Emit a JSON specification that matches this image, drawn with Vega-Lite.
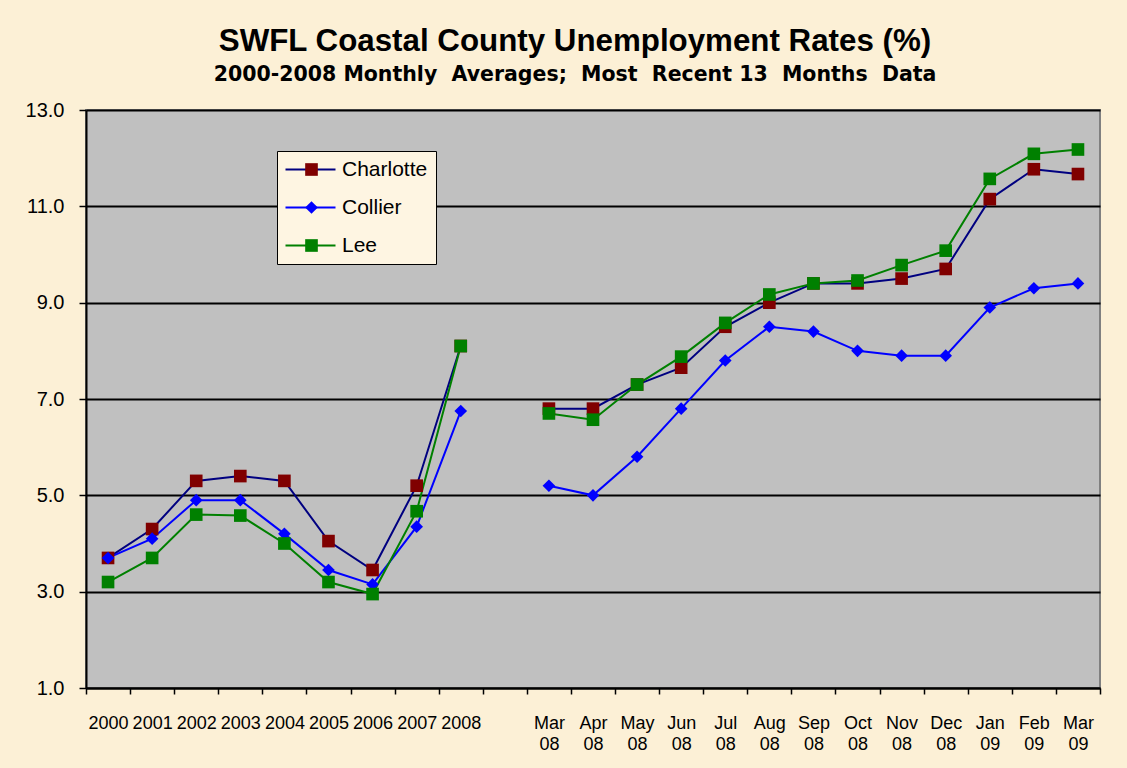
{
  "$schema": "https://vega.github.io/schema/vega-lite/v6.json",
  "width": 1014,
  "height": 578,
  "autosize": {"type": "none"},
  "padding": {"left": 86, "top": 110, "right": 27, "bottom": 80},
  "background": "#FCF0D6",
  "title": {
    "text": "SWFL Coastal County Unemployment Rates (%)",
    "subtitle": "2000-2008 Monthly\u00a0 Averages;\u00a0 Most\u00a0 Recent 13\u00a0 Months\u00a0 Data",
    "font": "Liberation Sans",
    "fontSize": 31.3,
    "fontWeight": "bold",
    "color": "black",
    "subtitleFont": "DejaVu Sans",
    "subtitleFontSize": 20.5,
    "subtitleFontWeight": "bold",
    "subtitleColor": "black",
    "anchor": "middle",
    "frame": "group",
    "dx": -18,
    "offset": 15,
    "subtitlePadding": 7
  },
  "config": {
    "view": {"fill": "#C0C0C0", "stroke": "#808080", "strokeWidth": 2}
  },
  "data": {
    "values": [
      {"period": "2000", "part": "annual", "county": "Charlotte", "rate": 3.7},
      {"period": "2001", "part": "annual", "county": "Charlotte", "rate": 4.3},
      {"period": "2002", "part": "annual", "county": "Charlotte", "rate": 5.3},
      {"period": "2003", "part": "annual", "county": "Charlotte", "rate": 5.4},
      {"period": "2004", "part": "annual", "county": "Charlotte", "rate": 5.3},
      {"period": "2005", "part": "annual", "county": "Charlotte", "rate": 4.05},
      {"period": "2006", "part": "annual", "county": "Charlotte", "rate": 3.45},
      {"period": "2007", "part": "annual", "county": "Charlotte", "rate": 5.2},
      {"period": "2008", "part": "annual", "county": "Charlotte", "rate": 8.1},
      {"period": "Mar 08", "part": "monthly", "county": "Charlotte", "rate": 6.8},
      {"period": "Apr 08", "part": "monthly", "county": "Charlotte", "rate": 6.8},
      {"period": "May 08", "part": "monthly", "county": "Charlotte", "rate": 7.3},
      {"period": "Jun 08", "part": "monthly", "county": "Charlotte", "rate": 7.65},
      {"period": "Jul 08", "part": "monthly", "county": "Charlotte", "rate": 8.5},
      {"period": "Aug 08", "part": "monthly", "county": "Charlotte", "rate": 9.0},
      {"period": "Sep 08", "part": "monthly", "county": "Charlotte", "rate": 9.4},
      {"period": "Oct 08", "part": "monthly", "county": "Charlotte", "rate": 9.4},
      {"period": "Nov 08", "part": "monthly", "county": "Charlotte", "rate": 9.5},
      {"period": "Dec 08", "part": "monthly", "county": "Charlotte", "rate": 9.7},
      {"period": "Jan 09", "part": "monthly", "county": "Charlotte", "rate": 11.15},
      {"period": "Feb 09", "part": "monthly", "county": "Charlotte", "rate": 11.77},
      {"period": "Mar 09", "part": "monthly", "county": "Charlotte", "rate": 11.67},
      {"period": "2000", "part": "annual", "county": "Collier", "rate": 3.7},
      {"period": "2001", "part": "annual", "county": "Collier", "rate": 4.1},
      {"period": "2002", "part": "annual", "county": "Collier", "rate": 4.9},
      {"period": "2003", "part": "annual", "county": "Collier", "rate": 4.9},
      {"period": "2004", "part": "annual", "county": "Collier", "rate": 4.2},
      {"period": "2005", "part": "annual", "county": "Collier", "rate": 3.45},
      {"period": "2006", "part": "annual", "county": "Collier", "rate": 3.15},
      {"period": "2007", "part": "annual", "county": "Collier", "rate": 4.35},
      {"period": "2008", "part": "annual", "county": "Collier", "rate": 6.75},
      {"period": "Mar 08", "part": "monthly", "county": "Collier", "rate": 5.2},
      {"period": "Apr 08", "part": "monthly", "county": "Collier", "rate": 5.0},
      {"period": "May 08", "part": "monthly", "county": "Collier", "rate": 5.8},
      {"period": "Jun 08", "part": "monthly", "county": "Collier", "rate": 6.8},
      {"period": "Jul 08", "part": "monthly", "county": "Collier", "rate": 7.8},
      {"period": "Aug 08", "part": "monthly", "county": "Collier", "rate": 8.5},
      {"period": "Sep 08", "part": "monthly", "county": "Collier", "rate": 8.4},
      {"period": "Oct 08", "part": "monthly", "county": "Collier", "rate": 8.0},
      {"period": "Nov 08", "part": "monthly", "county": "Collier", "rate": 7.9},
      {"period": "Dec 08", "part": "monthly", "county": "Collier", "rate": 7.9},
      {"period": "Jan 09", "part": "monthly", "county": "Collier", "rate": 8.9},
      {"period": "Feb 09", "part": "monthly", "county": "Collier", "rate": 9.3},
      {"period": "Mar 09", "part": "monthly", "county": "Collier", "rate": 9.4},
      {"period": "2000", "part": "annual", "county": "Lee", "rate": 3.2},
      {"period": "2001", "part": "annual", "county": "Lee", "rate": 3.7},
      {"period": "2002", "part": "annual", "county": "Lee", "rate": 4.6},
      {"period": "2003", "part": "annual", "county": "Lee", "rate": 4.58},
      {"period": "2004", "part": "annual", "county": "Lee", "rate": 4.0},
      {"period": "2005", "part": "annual", "county": "Lee", "rate": 3.2},
      {"period": "2006", "part": "annual", "county": "Lee", "rate": 2.95},
      {"period": "2007", "part": "annual", "county": "Lee", "rate": 4.67},
      {"period": "2008", "part": "annual", "county": "Lee", "rate": 8.1},
      {"period": "Mar 08", "part": "monthly", "county": "Lee", "rate": 6.7},
      {"period": "Apr 08", "part": "monthly", "county": "Lee", "rate": 6.57},
      {"period": "May 08", "part": "monthly", "county": "Lee", "rate": 7.3},
      {"period": "Jun 08", "part": "monthly", "county": "Lee", "rate": 7.88},
      {"period": "Jul 08", "part": "monthly", "county": "Lee", "rate": 8.58},
      {"period": "Aug 08", "part": "monthly", "county": "Lee", "rate": 9.17},
      {"period": "Sep 08", "part": "monthly", "county": "Lee", "rate": 9.4},
      {"period": "Oct 08", "part": "monthly", "county": "Lee", "rate": 9.46},
      {"period": "Nov 08", "part": "monthly", "county": "Lee", "rate": 9.78},
      {"period": "Dec 08", "part": "monthly", "county": "Lee", "rate": 10.08},
      {"period": "Jan 09", "part": "monthly", "county": "Lee", "rate": 11.57},
      {"period": "Feb 09", "part": "monthly", "county": "Lee", "rate": 12.09},
      {"period": "Mar 09", "part": "monthly", "county": "Lee", "rate": 12.18}
    ]
  },
  "encoding": {
    "x": {
      "field": "period",
      "type": "ordinal",
      "scale": {
        "type": "band",
        "domain": ["2000", "2001", "2002", "2003", "2004", "2005", "2006", "2007", "2008", " ", "Mar 08", "Apr 08", "May 08", "Jun 08", "Jul 08", "Aug 08", "Sep 08", "Oct 08", "Nov 08", "Dec 08", "Jan 09", "Feb 09", "Mar 09"],
        "paddingInner": 0,
        "paddingOuter": 0
      },
      "axis": {
        "title": null,
        "tickBand": "extent",
        "labelExpr": "isValid(datum.value) ? split(datum.value, ' ') : ''",
        "labelFont": "Liberation Sans",
        "labelFontSize": 18,
        "labelColor": "black",
        "labelAngle": 0,
        "labelBaseline": "top",
        "labelLineHeight": 21,
        "labelPadding": 20,
        "labelOverlap": false,
        "tickSize": 6,
        "tickColor": "black",
        "tickWidth": 1.5,
        "domainColor": "black",
        "domainWidth": 2,
        "grid": false
      }
    },
    "y": {
      "field": "rate",
      "type": "quantitative",
      "scale": {"domain": [1, 13], "nice": false, "zero": false},
      "axis": {
        "title": null,
        "values": [1, 3, 5, 7, 9, 11, 13],
        "format": ".1f",
        "labelFont": "Liberation Sans",
        "labelFontSize": 20,
        "labelColor": "black",
        "labelPadding": 15,
        "tickSize": 7,
        "tickColor": "black",
        "tickWidth": 1.5,
        "domainColor": "black",
        "domainWidth": 2,
        "grid": true,
        "gridColor": "black",
        "gridWidth": 2
      }
    }
  },
  "layer": [
    {
      "mark": {"type": "line", "strokeWidth": 2},
      "encoding": {
        "stroke": {
          "field": "county",
          "type": "nominal",
          "scale": {"domain": ["Charlotte", "Collier", "Lee"], "range": ["#000080", "#0000FF", "#008000"]},
          "legend": {
            "orient": "none",
            "legendX": 191,
            "legendY": 41,
            "title": null,
            "symbolType": "M-5,0H5",
            "symbolSize": 100,
            "symbolStrokeWidth": 2,
            "symbolOffset": 15,
            "labelFont": "Liberation Sans",
            "labelFontSize": 21,
            "labelColor": "black",
            "labelOffset": 21,
            "padding": 8,
            "rowPadding": 16,
            "fillColor": "#FEF5E2",
            "strokeColor": "black",
            "zindex": 1
          }
        },
        "detail": {"field": "part"}
      }
    },
    {
      "mark": {"type": "point", "filled": true, "opacity": 1, "size": 160, "strokeWidth": 0},
      "encoding": {
        "fill": {
          "field": "county",
          "type": "nominal",
          "scale": {"range": ["#800000", "#0000FF", "#008000"]},
          "legend": {
            "orient": "none",
            "legendX": 191,
            "legendY": 41,
            "title": null,
            "symbolSize": 160,
            "symbolStrokeWidth": 0,
            "symbolOffset": 16,
            "labelFont": "Liberation Sans",
            "labelFontSize": 21,
            "labelOpacity": 0,
            "labelOffset": 21,
            "padding": 8,
            "rowPadding": 16,
            "zindex": 2
          }
        },
        "shape": {
          "field": "county",
          "type": "nominal",
          "scale": {"range": ["square", "diamond", "square"]}
        }
      }
    }
  ]
}
